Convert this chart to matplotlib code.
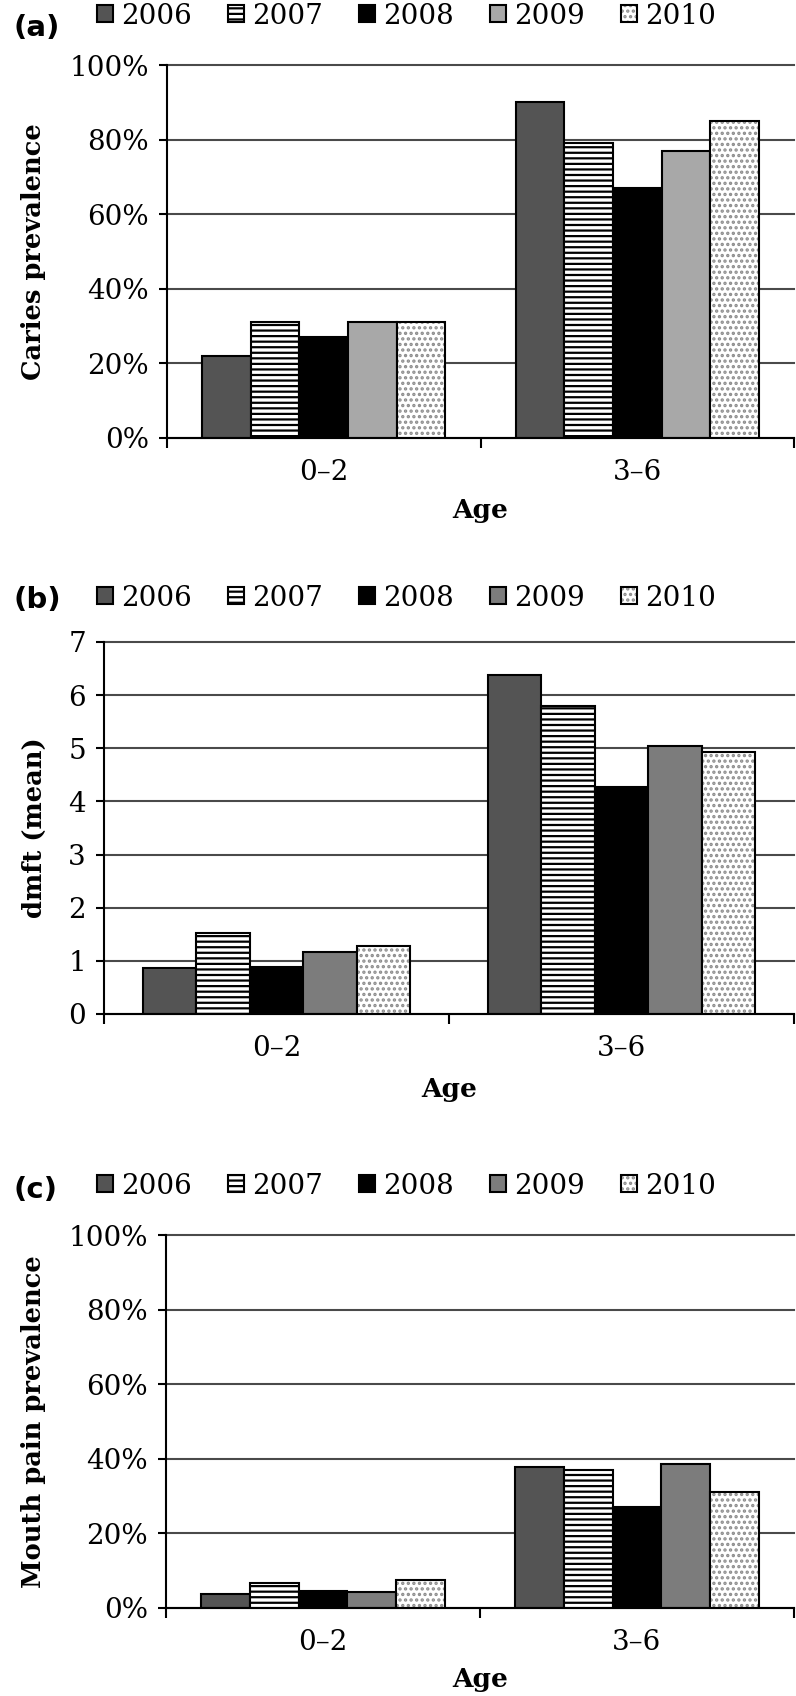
import matplotlib
matplotlib.use('Agg')
import matplotlib.pyplot as plt
import numpy as np
from matplotlib.ticker import PercentFormatter, FixedLocator

# ---------------- data ----------------
years = ['2006', '2007', '2008', '2009', '2010']
ages = ['0\u20132', '3\u20136']

caries_0_2 = [22, 31, 27, 31, 31]
caries_3_6 = [90, 79, 67, 77, 85]

dmft_0_2 = [0.86, 1.53, 0.88, 1.17, 1.28]
dmft_3_6 = [6.38, 5.80, 4.28, 5.05, 4.93]

pain_0_2 = [3.7, 6.8, 4.6, 4.4, 7.5]
pain_3_6 = [37.9, 37.0, 27.0, 38.6, 31.0]

# ---------------- style ----------------
plt.rcParams['font.family'] = ['DejaVu Serif']
plt.rcParams['hatch.linewidth'] = 1.6

W, H = 796, 1696
fig = plt.figure(figsize=(W / 100, H / 100), dpi=100)


def px_axes(l, r, t, b):
    return fig.add_axes([l / W, 1 - b / H, (r - l) / W, (b - t) / H])


panels = [
    dict(rect=(167, 794, 65, 438), v02=caries_0_2, v36=caries_3_6, ymax=100,
         ticks=list(range(0, 101, 20)), pct=True, ylabel='Caries prevalence',
         c2009='#a8a8a8', tag='(a)', tag_y=28, leg_y=16, xlab_y=511),
    dict(rect=(104, 794, 642, 1014), v02=dmft_0_2, v36=dmft_3_6, ymax=7,
         ticks=list(range(0, 8)), pct=False, ylabel='dmft (mean)',
         c2009='#7c7c7c', tag='(b)', tag_y=600, leg_y=598, xlab_y=1089),
    dict(rect=(166, 794, 1235, 1608), v02=pain_0_2, v36=pain_3_6, ymax=100,
         ticks=list(range(0, 101, 20)), pct=True, ylabel='Mouth pain prevalence',
         c2009='#7c7c7c', tag='(c)', tag_y=1190, leg_y=1186, xlab_y=1680),
]

w = 0.155
x = np.arange(len(ages))

for p in panels:
    l, r, t, b = p['rect']
    ax = px_axes(l, r, t, b)
    handles = []
    for i, yr in enumerate(years):
        heights = [p['v02'][i], p['v36'][i]]
        pos = x + (i - 2) * w
        if yr == '2006':
            bc = ax.bar(pos, heights, w, facecolor='#545454', edgecolor='black', linewidth=1.5, zorder=2)
            handles.append(bc)
        elif yr == '2007':
            bc = ax.bar(pos, heights, w, facecolor='white', edgecolor='black', linewidth=1.5,
                        hatch='---', zorder=2)
            handles.append(bc)
        elif yr == '2008':
            bc = ax.bar(pos, heights, w, facecolor='black', edgecolor='black', linewidth=1.5, zorder=2)
            handles.append(bc)
        elif yr == '2009':
            bc = ax.bar(pos, heights, w, facecolor=p['c2009'], edgecolor='black', linewidth=1.5, zorder=2)
            handles.append(bc)
        else:
            b1 = ax.bar(pos, heights, w, facecolor='white', edgecolor='#8c8c8c', linewidth=0,
                        hatch='...', zorder=2)
            b2 = ax.bar(pos, heights, w, facecolor='none', edgecolor='black', linewidth=1.5, zorder=3)
            handles.append((b1, b2))

    ax.set_xlim(-0.5, 1.5)
    ax.set_ylim(0, p['ymax'])
    ax.set_yticks(p['ticks'])
    if p['pct']:
        ax.yaxis.set_major_formatter(PercentFormatter(xmax=100, decimals=0))
    ax.set_xticks(x)
    ax.set_xticklabels(ages)
    ax.xaxis.set_minor_locator(FixedLocator([-0.5, 0.5, 1.5]))
    ax.tick_params(axis='x', which='major', length=0, pad=15, labelsize=20)
    ax.tick_params(axis='x', which='minor', length=7, width=1.5, direction='out')
    ax.tick_params(axis='y', which='major', length=6, width=1.5, direction='out', pad=7, labelsize=20)

    for s in ['top', 'right']:
        ax.spines[s].set_visible(False)
    for s in ['left', 'bottom']:
        ax.spines[s].set_linewidth(1.5)
        ax.spines[s].set_color('black')

    ax.set_axisbelow(True)
    ax.yaxis.grid(True, color='#4a4a4a', linewidth=1.5)
    for gl in ax.get_ygridlines():
        gl.set_clip_on(False)

    ax.set_ylabel(p['ylabel'], fontsize=18.5, fontweight='bold', va='center')
    ax.yaxis.set_label_coords((34 - l) / (r - l), 0.5)
    ax.set_xlabel('Age', fontsize=19, fontweight='bold', va='center')
    ax.xaxis.set_label_coords(0.5, (b - p['xlab_y']) / (b - t))

    fig.text(13 / W, 1 - p['tag_y'] / H, p['tag'], fontfamily='DejaVu Sans',
             fontweight='bold', fontsize=21, ha='left', va='center')

    fig.legend(handles, years, loc='center left', bbox_to_anchor=(97 / W, 1 - p['leg_y'] / H),
               ncol=5, frameon=False, fontsize=20, handlelength=0.58, handleheight=0.58,
               handletextpad=0.29, columnspacing=1.3, borderpad=0, borderaxespad=0)

fig.savefig('out.png', dpi=100)
